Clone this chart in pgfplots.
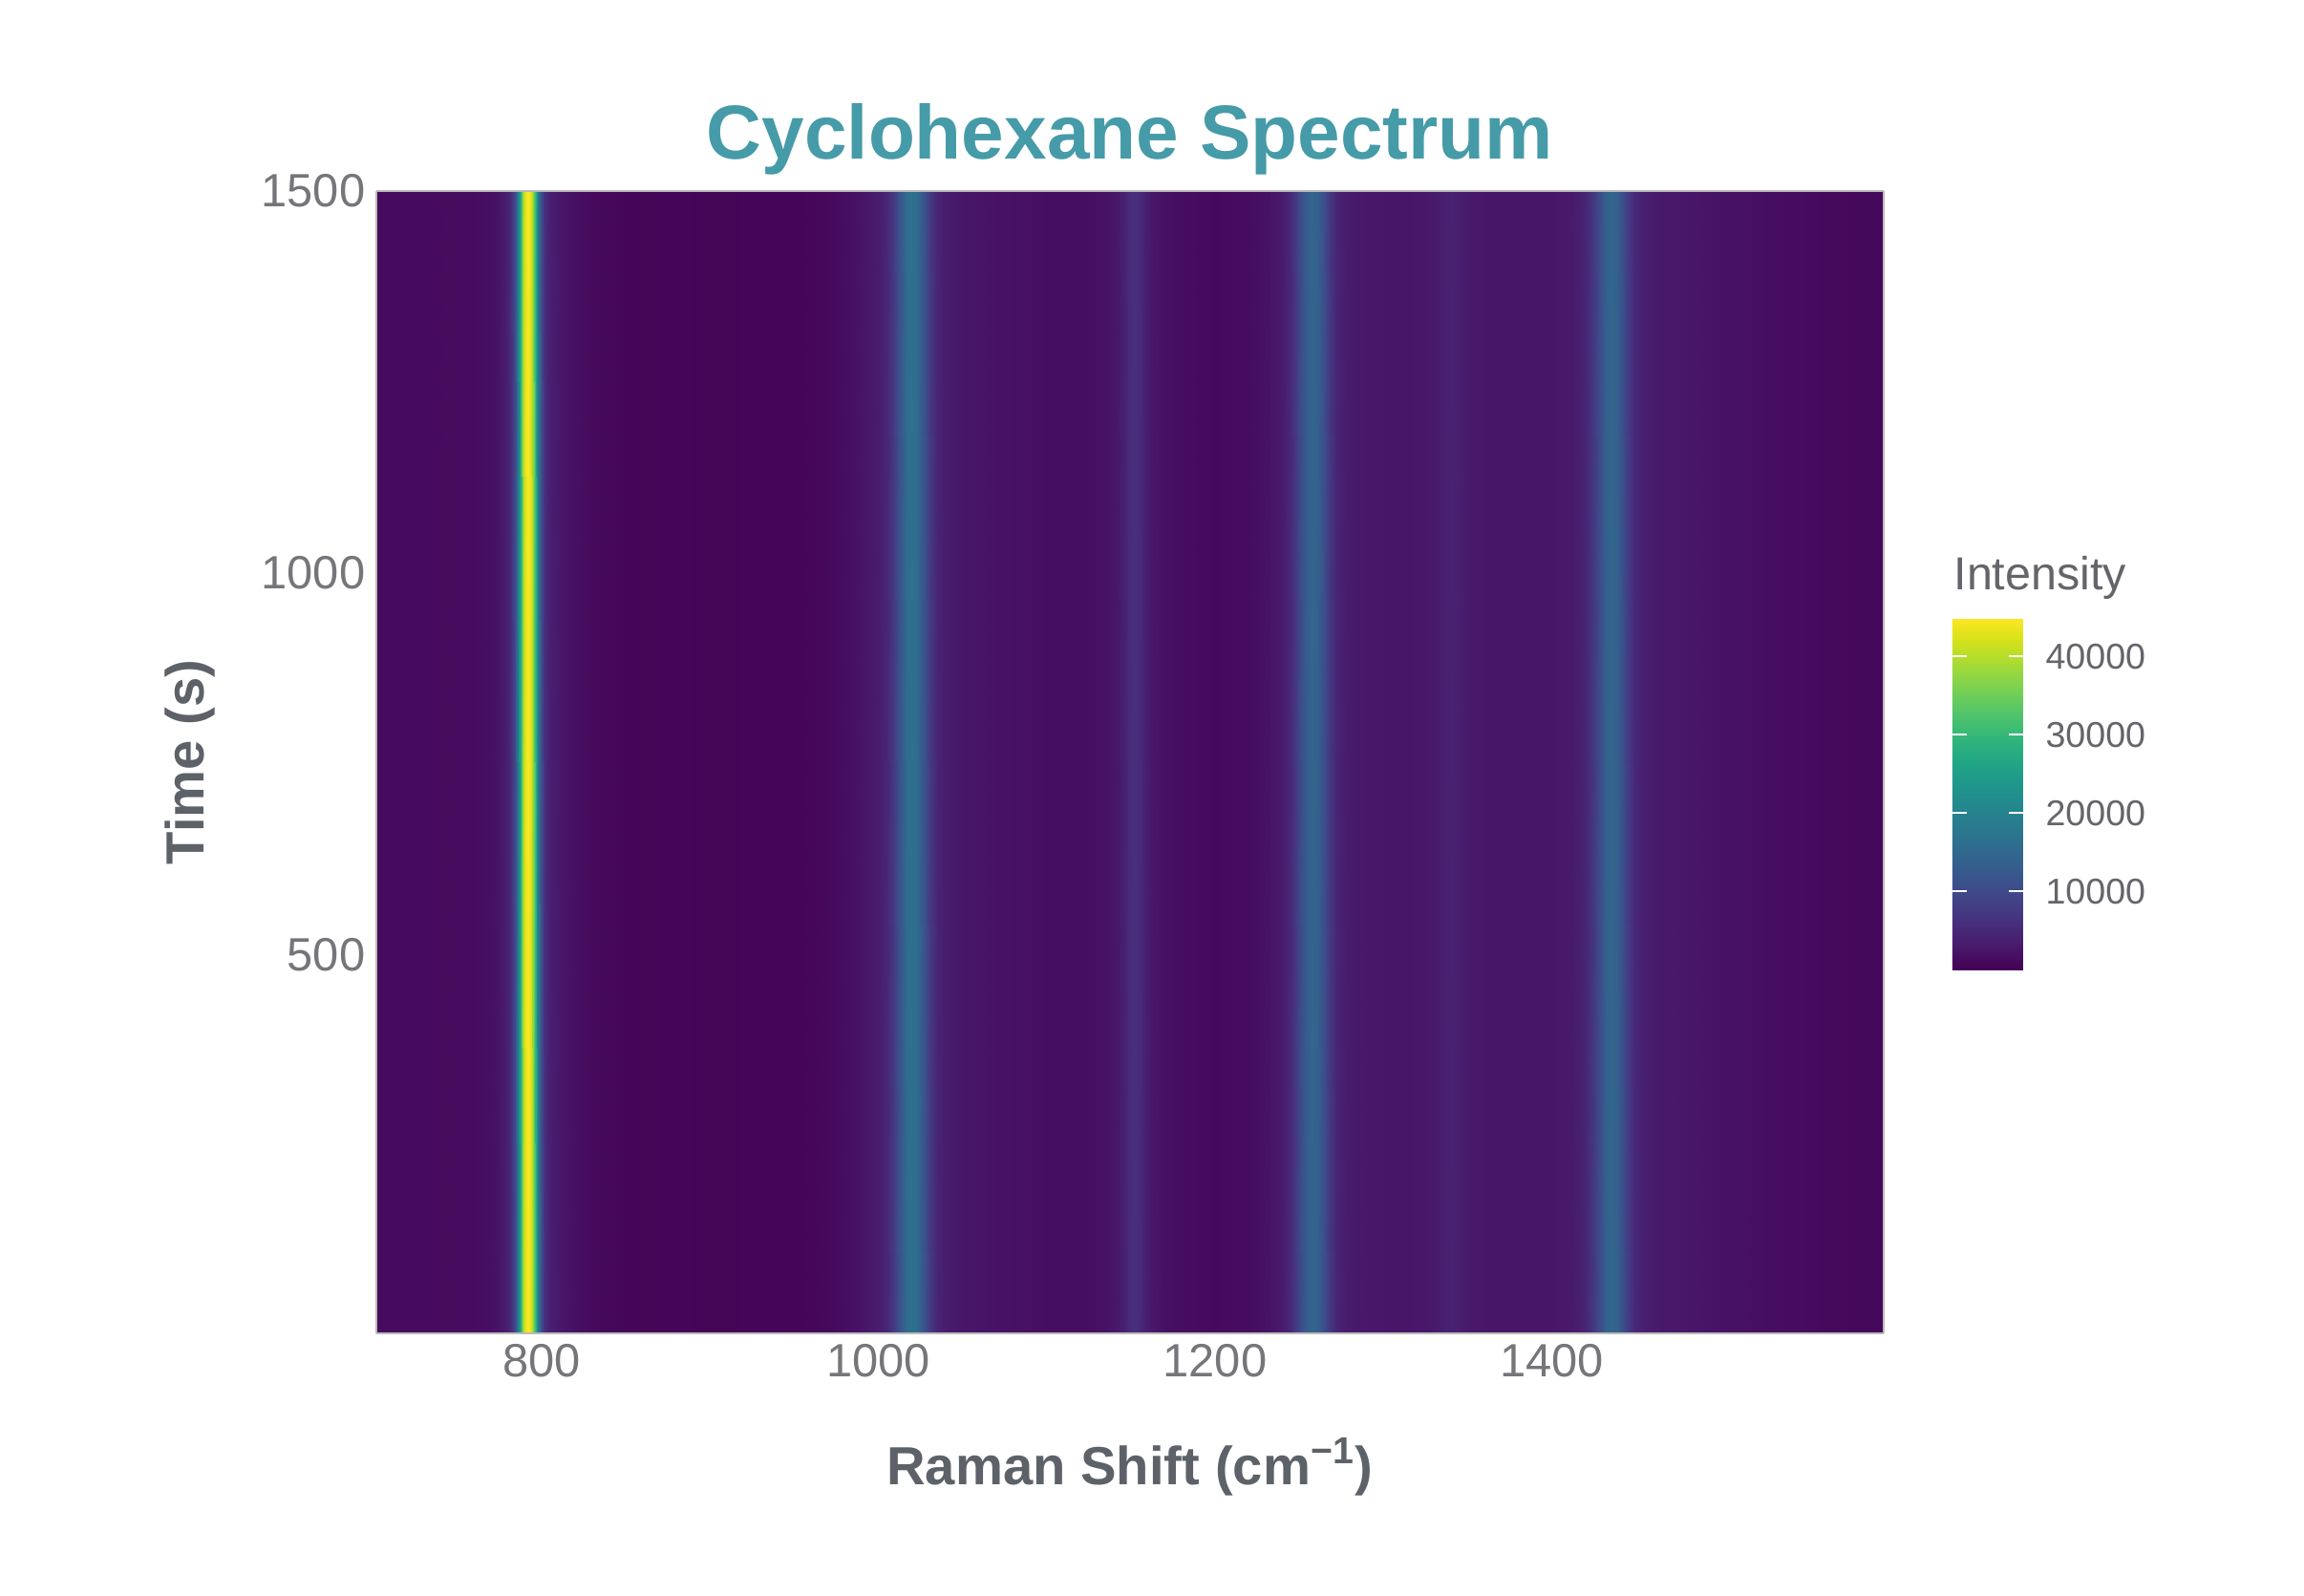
\documentclass[border=0pt]{standalone}
\usepackage{fontspec}
\setmainfont{Liberation Sans}
\usepackage{pgfplots}
\pgfplotsset{compat=1.18}
\definecolor{titlecol}{RGB}{70,155,168}
\definecolor{ticklab}{RGB}{117,117,122}
\definecolor{axlab}{RGB}{92,98,104}
\definecolor{cblab}{RGB}{100,100,106}
\begin{document}
\begin{tikzpicture}
\useasboundingbox (0,0) rectangle (24.12cm,16.70cm);
\begin{axis}[
  at={(3.94cm,2.74cm)}, anchor=south west,
  scale only axis, width=15.78cm, height=11.96cm,
  xmin=702, xmax=1597, ymin=5, ymax=1500,
  view={0}{90},
  colormap/viridis,
  point meta min=0, point meta max=44900,
  xtick={800,1000,1200,1400}, xticklabels={800,1000,1200,1400},
  ytick={500,1000,1500}, yticklabels={500,1000,1500},
  major tick length=0pt,
  axis line style={draw=gray!55, line width=0.4pt},
  xticklabel style={font=\fontsize{13.9}{16}\selectfont, color=ticklab, inner sep=0pt, anchor=north, yshift=-0.11cm},
  yticklabel style={font=\fontsize{13.9}{16}\selectfont, color=ticklab, inner sep=0pt, anchor=east, xshift=-0.11cm},
  xlabel={Raman Shift (cm\textsuperscript{−1})},
  xlabel style={font=\fontsize{16}{20}\bfseries, color=axlab, at={(axis description cs:0.5,-0.1329)}, anchor=base, inner sep=0pt},
  ylabel={Time (s)},
  ylabel style={font=\fontsize{16}{20}\bfseries, color=axlab, at={(axis description cs:-0.1141,0.5)}, anchor=base, inner sep=0pt},
  title={Cyclohexane Spectrum},
  title style={font=\fontsize{22.8}{28}\bfseries, color=titlecol, at={(axis description cs:0.5,1)}, anchor=base, yshift=0.12cm, inner sep=0pt},
  axis on top,
  colorbar,
  colorbar/width=0.74cm,
  colorbar style={
    scale only axis,
    width=0.74cm, height=3.68cm,
    at={(parent axis.north east)}, anchor=north west,
    xshift=0.42cm, yshift=-4.47cm,
    axis line style={draw=none},
    scaled y ticks=false,
    ytick={10000,20000,30000,40000},
    yticklabels={10000,20000,30000,40000},
    yticklabel pos=right,
    ytick pos=both,
    tick align=inside,
    major tick length=0.15cm,
    major tick style={white, line width=0.02cm},
    yticklabel style={font=\fontsize{10.7}{13}\selectfont, color=cblab, inner sep=0pt, anchor=west, xshift=0.23cm},
    title={Intensity},
    title style={font=\fontsize{13.8}{16}\selectfont, color=cblab, at={(0,1)}, anchor=base west, yshift=0.08cm, xshift=0.01cm, inner sep=0pt},
  },
]
\addplot3[surf, shader=interp, mesh/rows=2] table {
x y z
702 5 1200
720 5 1200
740 5 1250
755 5 1350
765 5 1500
770 5 1800
774 5 2300
777 5 2900
780 5 4200
782 5 6000
784 5 10000
786 5 18000
787.5 5 28000
789 5 37000
790 5 42000
791 5 44000
792 5 44900
793 5 44000
794 5 42000
795 5 37000
796.5 5 28000
798 5 18000
800 5 10000
802 5 6000
804 5 4200
807 5 3400
812 5 2600
820 5 1800
830 5 1100
850 5 600
900 5 400
950 5 500
965 5 800
975 5 1200
985 5 1900
995 5 2800
1000 5 3400
1005 5 4600
1009 5 7200
1013 5 11500
1017 5 15500
1020 5 16500
1023 5 15500
1027 5 11500
1031 5 7200
1035 5 4600
1040 5 3400
1048 5 2700
1060 5 2300
1080 5 1900
1100 5 1600
1120 5 1500
1135 5 1900
1142 5 2800
1146 5 4000
1149 5 5300
1152 5 6000
1155 5 5300
1158 5 4000
1163 5 2600
1170 5 1900
1185 5 1300
1200 5 1100
1220 5 1400
1232 5 2100
1240 5 3200
1245 5 5000
1249 5 8200
1253 5 12000
1256 5 14000
1258 5 14600
1261 5 13600
1264 5 11000
1268 5 7200
1272 5 4500
1278 5 3300
1290 5 2700
1310 5 2500
1325 5 2700
1333 5 3300
1337 5 3800
1340 5 4100
1344 5 3800
1350 5 3100
1360 5 2600
1380 5 2500
1400 5 2600
1412 5 3100
1420 5 4600
1425 5 7500
1429 5 11000
1432 5 13500
1435 5 14600
1438 5 14000
1441 5 11500
1445 5 7800
1449 5 5000
1455 5 3700
1465 5 3000
1480 5 2600
1500 5 2100
1520 5 1700
1540 5 1400
1560 5 1100
1580 5 950
1597 5 850
702 1500 1200
720 1500 1200
740 1500 1250
755 1500 1350
765 1500 1500
770 1500 1800
774 1500 2300
777 1500 2900
780 1500 4200
782 1500 6000
784 1500 10000
786 1500 18000
787.5 1500 28000
789 1500 37000
790 1500 42000
791 1500 44000
792 1500 44900
793 1500 44000
794 1500 42000
795 1500 37000
796.5 1500 28000
798 1500 18000
800 1500 10000
802 1500 6000
804 1500 4200
807 1500 3400
812 1500 2600
820 1500 1800
830 1500 1100
850 1500 600
900 1500 400
950 1500 500
965 1500 800
975 1500 1200
985 1500 1900
995 1500 2800
1000 1500 3400
1005 1500 4600
1009 1500 7200
1013 1500 11500
1017 1500 15500
1020 1500 16500
1023 1500 15500
1027 1500 11500
1031 1500 7200
1035 1500 4600
1040 1500 3400
1048 1500 2700
1060 1500 2300
1080 1500 1900
1100 1500 1600
1120 1500 1500
1135 1500 1900
1142 1500 2800
1146 1500 4000
1149 1500 5300
1152 1500 6000
1155 1500 5300
1158 1500 4000
1163 1500 2600
1170 1500 1900
1185 1500 1300
1200 1500 1100
1220 1500 1400
1232 1500 2100
1240 1500 3200
1245 1500 5000
1249 1500 8200
1253 1500 12000
1256 1500 14000
1258 1500 14600
1261 1500 13600
1264 1500 11000
1268 1500 7200
1272 1500 4500
1278 1500 3300
1290 1500 2700
1310 1500 2500
1325 1500 2700
1333 1500 3300
1337 1500 3800
1340 1500 4100
1344 1500 3800
1350 1500 3100
1360 1500 2600
1380 1500 2500
1400 1500 2600
1412 1500 3100
1420 1500 4600
1425 1500 7500
1429 1500 11000
1432 1500 13500
1435 1500 14600
1438 1500 14000
1441 1500 11500
1445 1500 7800
1449 1500 5000
1455 1500 3700
1465 1500 3000
1480 1500 2600
1500 1500 2100
1520 1500 1700
1540 1500 1400
1560 1500 1100
1580 1500 950
1597 1500 850
};
\end{axis}
\end{tikzpicture}
\end{document}
